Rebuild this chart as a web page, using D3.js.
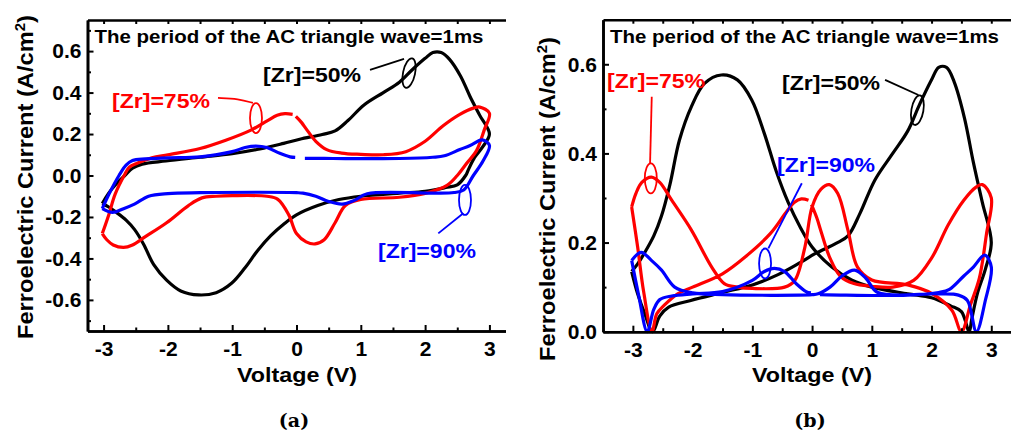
<!DOCTYPE html>
<html><head><meta charset="utf-8">
<script src="https://cdn.jsdelivr.net/npm/d3@7"></script>
<style>
body{margin:0;background:#fff;}
svg{display:block;}
text{font-family:"Liberation Sans",Arial,sans-serif;font-weight:bold;fill:#000;}
</style></head><body>
<svg id="c" width="1011" height="434"></svg>
<script>
// ---------- data ----------
const voltageTicks = [-3, -2, -1, 0, 1, 2, 3];
const voltageMinor = [-2.5, -1.5, -0.5, 0.5, 1.5, 2.5];
const currentTicksA = [-0.6, -0.4, -0.2, 0.0, 0.2, 0.4, 0.6];
const currentMinorA = [-0.7, -0.5, -0.3, -0.1, 0.1, 0.3, 0.5, 0.7];
const currentTicksB = [0.0, 0.2, 0.4, 0.6];
const currentMinorB = [0.1, 0.3, 0.5];
const seriesNames = ["[Zr]=50%", "[Zr]=75%", "[Zr]=90%"];
const seriesColors = ["#000000", "#ff0000", "#0000ff"];

// loops: [voltage (V), current (A/cm2)], rising sweep then falling sweep
const zr50 = [[-3.02,-0.135],[-2.92,-0.085],[-2.8,-0.04],[-2.67,0],[-2.55,0.035],[-2.4,0.055],[-2.03,0.07],[-1.5,0.088],[-1.0,0.105],[-0.57,0.128],[-0.2,0.155],[0.05,0.175],[0.4,0.198],[0.6,0.215],[0.8,0.265],[1.05,0.34],[1.35,0.4],[1.6,0.45],[1.8,0.51],[2.0,0.565],[2.12,0.593],[2.25,0.593],[2.38,0.56],[2.55,0.48],[2.7,0.38],[2.85,0.29],[3.0,0.2],
  [2.9,0.14],[2.77,0.087],[2.67,0.026],[2.63,0],[2.5,-0.045],[2.32,-0.058],[2.0,-0.076],[1.6,-0.085],[1.0,-0.1],[0.66,-0.116],[0.33,-0.145],[0.0,-0.19],[-0.2,-0.235],[-0.4,-0.29],[-0.6,-0.36],[-0.8,-0.445],[-1.01,-0.52],[-1.25,-0.565],[-1.52,-0.576],[-1.8,-0.557],[-2.02,-0.505],[-2.22,-0.43],[-2.38,-0.33],[-2.52,-0.26],[-2.65,-0.215],[-2.8,-0.178],[-2.92,-0.152],[-3.02,-0.135]];
const zr75 = [[-3.02,-0.28],[-2.92,-0.19],[-2.82,-0.09],[-2.68,0],[-2.6,0.04],[-2.47,0.06],[-2.25,0.085],[-2.0,0.1],[-1.5,0.13],[-1.1,0.17],[-0.7,0.22],[-0.45,0.265],[-0.3,0.29],[-0.18,0.298],[-0.06,0.295],null,[-0.01,0.285],[0.08,0.255],[0.15,0.225],[0.3,0.165],[0.47,0.125],[0.7,0.108],[1.0,0.102],[1.35,0.1],[1.7,0.115],[2.0,0.165],[2.28,0.24],[2.54,0.295],[2.75,0.325],[2.85,0.33],[3.0,0.3],
  [2.92,0.22],[2.8,0.12],[2.65,0.06],[2.5,0],[2.34,-0.048],[2.0,-0.086],[1.6,-0.105],[1.0,-0.116],[0.76,-0.145],[0.6,-0.228],[0.43,-0.31],[0.29,-0.33],[0.15,-0.32],[0.0,-0.28],[-0.12,-0.19],[-0.29,-0.115],[-0.46,-0.1],[-1.0,-0.097],[-1.25,-0.1],[-1.47,-0.108],[-1.68,-0.145],[-2.02,-0.228],[-2.35,-0.295],[-2.55,-0.335],[-2.69,-0.347],[-2.85,-0.335],[-2.95,-0.31],[-3.02,-0.28]];
const zr90 = [[-3.02,-0.16],[-2.9,-0.08],[-2.76,0],[-2.65,0.05],[-2.55,0.072],[-2.35,0.08],[-2.0,0.085],[-1.5,0.09],[-1.0,0.115],[-0.8,0.135],[-0.63,0.142],[-0.46,0.135],[-0.26,0.107],[-0.1,0.09],[-0.02,0.087],null,[0.13,0.083],[0.57,0.082],[1.6,0.082],[2.12,0.088],[2.3,0.095],[2.54,0.125],[2.7,0.145],[2.89,0.172],[3.0,0.145],
  [2.9,0.07],[2.75,0],[2.6,-0.07],[2.45,-0.082],[2.12,-0.085],[1.1,-0.088],[0.9,-0.12],[0.71,-0.138],[0.5,-0.125],[0.3,-0.1],[0.1,-0.085],[0.0,-0.083],[-1.5,-0.083],[-2.0,-0.087],[-2.3,-0.1],[-2.52,-0.138],[-2.69,-0.16],[-2.86,-0.178],[-3.02,-0.16]];
const seriesData = [zr50, zr75, zr90];

// annotation anchors in data units: text start, leader line, ellipse centre
const annotA = [
  {s:0, text:[-0.52,0.451], line:[[1.143,0.509],[1.672,0.562]], ell:[1.75,0.494], rot:12},
  {s:1, text:[-2.869,0.326], line:[[-1.221,0.374],[-0.9,0.37],[-0.677,0.35]], ell:[-0.63,0.277], rot:0},
  {s:2, text:[1.267,-0.398], line:[[2.205,-0.279],[2.594,-0.182]], ell:[2.62,-0.118], rot:0}
];
const annotB = [
  {s:0, text:[-0.502,0.542], line:[[1.222,0.565],[1.78,0.531]], ell:[1.763,0.497], rot:10},
  {s:1, text:[-3.432,0.547], line:[[-2.684,0.527],[-2.712,0.378]], ell:[-2.70,0.344], rot:0},
  {s:2, text:[-0.586,0.358], line:[[-0.172,0.333],[-0.732,0.187]], ell:[-0.787,0.153], rot:0}
];

const svg = d3.select("#c");

function panel(cfg){
  const g = svg.append("g");
  const x = d3.scaleLinear().domain(cfg.xd).range(cfg.xr);
  const y = d3.scaleLinear().domain(cfg.yd).range(cfg.yr);
  const left = cfg.xr[0], right = cfg.xr[1], top = cfg.yr[1], bottom = cfg.yr[0];

  // curves
  const line = d3.line().defined(d => d !== null).x(d => x(d[0])).y(d => y(d[1])).curve(d3.curveCatmullRom.alpha(0.5));
  seriesData.forEach((arr, k) => {
    const pts = cfg.abs ? arr.map(d => d === null ? null : [d[0], Math.abs(d[1])]) : arr;
    g.append("path").attr("d", line(pts)).attr("fill","none")
      .attr("stroke", seriesColors[k]).attr("stroke-width", 3.2).attr("stroke-linejoin","round");
  });

  // axes
  const ax = g.append("g").attr("transform",`translate(0,${bottom})`)
    .call(d3.axisBottom(x).tickValues(voltageTicks).tickSizeInner(-6).tickSizeOuter(0).tickPadding(10).tickFormat(d3.format("d")));
  g.append("g").attr("transform",`translate(0,${bottom})`)
    .call(d3.axisBottom(x).tickValues(voltageMinor).tickSizeInner(-3.5).tickSizeOuter(0).tickFormat(""));
  g.append("g").attr("transform",`translate(0,${top})`)
    .call(d3.axisTop(x).tickValues(voltageTicks.concat(voltageMinor)).tickSizeInner(-4).tickSizeOuter(0).tickFormat(""));
  const ay = g.append("g").attr("transform",`translate(${left},0)`)
    .call(d3.axisLeft(y).tickValues(cfg.yt).tickSizeInner(-6).tickSizeOuter(0).tickPadding(6).tickFormat(d3.format(".1f")));
  g.append("g").attr("transform",`translate(${left},0)`)
    .call(d3.axisLeft(y).tickValues(cfg.ym).tickSizeInner(-3.5).tickSizeOuter(0).tickFormat(""));
  g.selectAll(".domain").attr("stroke","#000").attr("stroke-width",2.6);
  g.selectAll(".tick line").attr("stroke","#000").attr("stroke-width",2);
  g.selectAll(".tick text").attr("font-size",21).attr("font-family","Liberation Sans, Arial, sans-serif").attr("font-weight","bold").attr("fill","#000");
  ax.selectAll(".tick text").text(d => d3.format("d")(d).replace("−","-"));
  ay.selectAll(".tick text").text(d => d3.format(".1f")(d).replace("−","-"));

  // axis titles
  g.append("text").attr("x", cfg.xtitle[0]).attr("y", cfg.xtitle[1]).attr("text-anchor","middle")
    .attr("font-size",21).attr("textLength",120).attr("lengthAdjust","spacingAndGlyphs").text("Voltage (V)");
  const yt = g.append("text").attr("transform",`translate(${cfg.ytitle[0]},${cfg.ytitle[1]}) rotate(-90)`)
    .attr("text-anchor","middle").attr("font-size",22).attr("textLength",324).attr("lengthAdjust","spacingAndGlyphs");
  yt.append("tspan").text("Ferroelectric Current (A/cm");
  yt.append("tspan").attr("baseline-shift","super").attr("font-size",14).text("2");
  yt.append("tspan").text(")");

  // inner title
  g.append("text").attr("x", left + 7).attr("y", 43).attr("font-size",18.5)
    .attr("textLength",389).attr("lengthAdjust","spacingAndGlyphs").text("The period of the AC triangle wave=1ms");

  // annotations
  cfg.annot.forEach(a => {
    const c = seriesColors[a.s];
    g.append("text").attr("x", x(a.text[0])).attr("y", y(a.text[1])).attr("font-size",21)
      .attr("textLength",98).attr("lengthAdjust","spacingAndGlyphs").style("fill", c).text(seriesNames[a.s]);
    g.append("path").attr("d", d3.line().x(d=>x(d[0])).y(d=>y(d[1])).curve(d3.curveBasis)(a.line))
      .attr("fill","none").attr("stroke",c).attr("stroke-width",1.8);
    g.append("ellipse").attr("transform",`translate(${x(a.ell[0])},${y(a.ell[1])}) rotate(${a.rot})`)
      .attr("rx",6).attr("ry",15).attr("fill","none").attr("stroke",c).attr("stroke-width",1.8);
  });

  // caption
  g.append("text").attr("x", cfg.cap[0]).attr("y", 427).attr("text-anchor","middle")
    .style("font-family","'DejaVu Serif','Liberation Serif',serif").style("font-size","19px").style("font-weight","bold").text(cfg.capText);
}

panel({xd:[-3.25,3.25], xr:[87.5,505.5], yd:[-0.75,0.75], yr:[331,20], yt:currentTicksA, ym:currentMinorA,
  abs:false, annot:annotA, xtitle:[297,382], ytitle:[33,177], cap:[294], capText:"(a)"});
panel({xd:[-3.5,3.35], xr:[603,1012.2], yd:[0,0.7], yr:[331.7,19.7], yt:currentTicksB, ym:currentMinorB,
  abs:true, annot:annotB, xtitle:[812,382], ytitle:[555,199], cap:[810], capText:"(b)"});
</script>
</body></html>
